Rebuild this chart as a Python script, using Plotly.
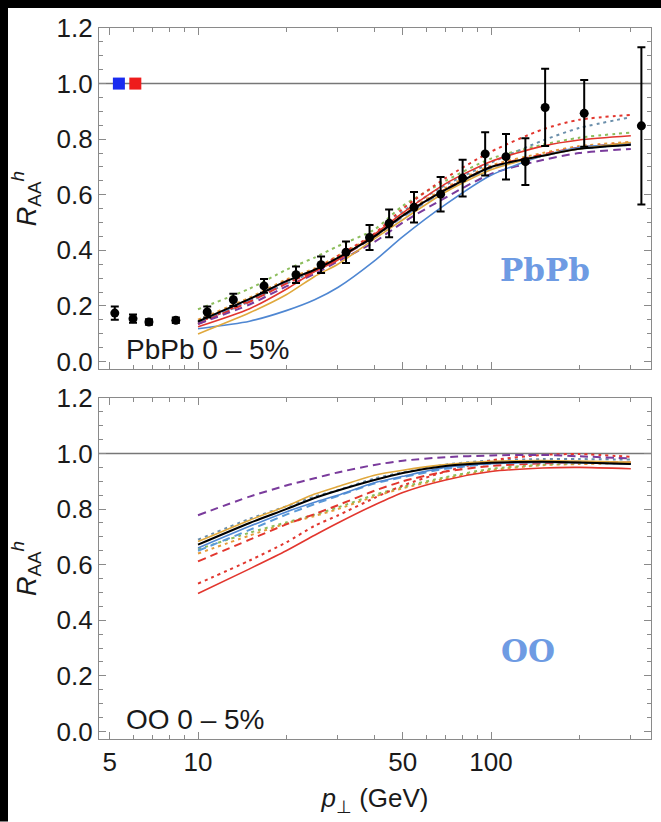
import math
import plotly.graph_objects as go
from plotly.subplots import make_subplots

# ---------------- data ----------------
pt_nodes = [10, 15, 20, 25, 30, 40, 50, 70, 100, 150, 200, 300]

# PbPb data points (pT, R_AA, error)
pbpb_pt = [5.2, 6.0, 6.8, 8.4, 10.75, 13.2, 16.8, 21.6, 26.3, 32, 38.5, 44.9, 54.6,
           67.3, 80, 95.5, 112.5, 131, 153, 208, 326]
pbpb_R = [0.174, 0.154, 0.142, 0.148, 0.178, 0.222, 0.272, 0.312, 0.348, 0.393, 0.446,
          0.497, 0.555, 0.602, 0.66, 0.747, 0.737, 0.719, 0.914, 0.893, 0.848]
pbpb_err = [0.024, 0.015, 0.01, 0.01, 0.02, 0.022, 0.025, 0.03, 0.03, 0.039, 0.045,
            0.05, 0.055, 0.062, 0.066, 0.078, 0.082, 0.084, 0.139, 0.12, 0.283]

# marker squares at R=1
sq_pt = [5.37, 6.11]
sq_R = [1.0, 1.0]
sq_colors = ["#1a2cf0", "#ee1c1c"]

# theory curves, PbPb panel
pb_black = [0.144, 0.225, 0.289, 0.330, 0.373, 0.450, 0.525, 0.618, 0.700, 0.740, 0.765, 0.780]
pb_red = [0.125, 0.190, 0.260, 0.324, 0.365, 0.458, 0.535, 0.640, 0.720, 0.775, 0.797, 0.812]
pb_blue = [0.118, 0.145, 0.183, 0.222, 0.266, 0.362, 0.449, 0.565, 0.670, 0.740, 0.770, 0.783]
pb_gold = [0.099, 0.175, 0.240, 0.306, 0.350, 0.441, 0.510, 0.610, 0.690, 0.740, 0.765, 0.788]
pb_red_dot = [0.140, 0.220, 0.290, 0.330, 0.380, 0.460, 0.550, 0.660, 0.755, 0.835, 0.870, 0.887]
pb_gblue_dot = [0.142, 0.215, 0.280, 0.325, 0.370, 0.455, 0.540, 0.635, 0.715, 0.795, 0.840, 0.879]
pb_green_dot = [0.188, 0.262, 0.330, 0.374, 0.415, 0.475, 0.560, 0.650, 0.730, 0.780, 0.805, 0.824]
pb_purple_dash = [0.135, 0.205, 0.270, 0.315, 0.360, 0.430, 0.500, 0.590, 0.675, 0.725, 0.750, 0.765]
pb_red_dash = [0.135, 0.215, 0.280, 0.325, 0.370, 0.450, 0.525, 0.620, 0.700, 0.745, 0.770, 0.785]
pb_lblue_dash = [0.140, 0.220, 0.285, 0.327, 0.370, 0.448, 0.520, 0.615, 0.695, 0.740, 0.765, 0.780]
pb_orange_dot = [0.150, 0.230, 0.295, 0.335, 0.380, 0.455, 0.530, 0.625, 0.705, 0.750, 0.775, 0.790]

# theory curves, OO panel
oo_black = [0.672, 0.750, 0.800, 0.840, 0.867, 0.905, 0.930, 0.955, 0.967, 0.970, 0.968, 0.962]
oo_red = [0.496, 0.585, 0.650, 0.706, 0.750, 0.815, 0.860, 0.905, 0.935, 0.948, 0.950, 0.945]
oo_blue = [0.660, 0.738, 0.790, 0.825, 0.850, 0.895, 0.918, 0.950, 0.963, 0.968, 0.967, 0.962]
oo_gold = [0.683, 0.760, 0.810, 0.854, 0.881, 0.922, 0.940, 0.960, 0.972, 0.975, 0.973, 0.968]
oo_red_dot = [0.532, 0.615, 0.680, 0.740, 0.777, 0.840, 0.885, 0.935, 0.975, 0.995, 0.998, 0.988]
oo_gblue_dot = [0.690, 0.765, 0.810, 0.845, 0.868, 0.910, 0.932, 0.960, 0.975, 0.980, 0.980, 0.978]
oo_green_dot = [0.655, 0.715, 0.752, 0.780, 0.806, 0.851, 0.880, 0.915, 0.945, 0.960, 0.965, 0.968]
oo_purple_dash = [0.778, 0.845, 0.885, 0.911, 0.932, 0.959, 0.974, 0.987, 0.993, 0.995, 0.990, 0.982]
oo_red_dash = [0.612, 0.690, 0.745, 0.782, 0.814, 0.866, 0.900, 0.935, 0.955, 0.965, 0.968, 0.968]
oo_lblue_dash = [0.650, 0.725, 0.780, 0.818, 0.847, 0.892, 0.915, 0.945, 0.963, 0.970, 0.970, 0.965]
oo_orange_dot = [0.640, 0.705, 0.748, 0.775, 0.800, 0.845, 0.875, 0.910, 0.940, 0.958, 0.962, 0.965]

x_tick_vals = [5, 10, 50, 100]
x_minor_vals = [6, 7, 8, 9, 20, 30, 40, 60, 70, 80, 90, 200, 300]
y_tick_vals = [0.0, 0.2, 0.4, 0.6, 0.8, 1.0, 1.2]

# ---------------- styles ----------------
RED = "#e2362e"
styles = [
    ("orange_dot", "#e69b3a", "3px,4px", 2.0),
    ("green_dot", "#8cbd5c", "3px,4px", 2.0),
    ("gblue_dot", "#6b8fab", "3px,4px", 2.0),
    ("red_dot", RED, "3px,4px", 2.0),
    ("lblue_dash", "#5a9ad8", "8px,5px", 2.0),
    ("red_dash", RED, "8px,5px", 2.0),
    ("purple_dash", "#7a3b9c", "8px,5px", 2.0),
    ("blue", "#4f87d2", "solid", 1.6),
    ("gold", "#e0a83c", "solid", 1.6),
    ("red", RED, "solid", 1.6),
    ("black", "#000000", "solid", 2.0),
]
pb_curves = dict(black=pb_black, red=pb_red, blue=pb_blue, gold=pb_gold,
                 red_dot=pb_red_dot, gblue_dot=pb_gblue_dot, green_dot=pb_green_dot,
                 purple_dash=pb_purple_dash, red_dash=pb_red_dash,
                 lblue_dash=pb_lblue_dash, orange_dot=pb_orange_dot)
oo_curves = dict(black=oo_black, red=oo_red, blue=oo_blue, gold=oo_gold,
                 red_dot=oo_red_dot, gblue_dot=oo_gblue_dot, green_dot=oo_green_dot,
                 purple_dash=oo_purple_dash, red_dash=oo_red_dash,
                 lblue_dash=oo_lblue_dash, orange_dot=oo_orange_dot)

fig = make_subplots(rows=2, cols=1, shared_xaxes=False, vertical_spacing=0.0)

for row, curves in ((1, pb_curves), (2, oo_curves)):
    for name, color, dash, width in styles:
        fig.add_trace(go.Scatter(x=pt_nodes, y=curves[name], mode="lines",
                                 line=dict(color=color, dash=dash, width=width, shape="spline",
                                           smoothing=0.7),
                                 showlegend=False, hoverinfo="skip"), row=row, col=1)

# data points
fig.add_trace(go.Scatter(x=pbpb_pt, y=pbpb_R, mode="markers",
                         marker=dict(color="black", size=9),
                         error_y=dict(type="data", array=pbpb_err, color="black",
                                      thickness=2, width=4),
                         showlegend=False), row=1, col=1)
fig.add_trace(go.Scatter(x=sq_pt, y=sq_R, mode="markers",
                         marker=dict(color=sq_colors, size=12, symbol="square"),
                         showlegend=False), row=1, col=1)

# horizontal reference line at R=1
for yref, xref in (("y", "x domain"), ("y2", "x2 domain")):
    fig.add_shape(type="line", xref=xref, yref=yref, x0=0, x1=1, y0=1, y1=1,
                  line=dict(color="#777777", width=1.5), layer="below")

# ---------------- layout ----------------
W, H = 661, 822
ML, MR, MT, MB = 99, 10, 28, 82.5
plot_h = H - MT - MB
panel_h = 341.3
tick_font = dict(family="Liberation Sans, Arial, sans-serif", size=26, color="#1a1a1a")
axis_color = "#8a8a8a"

xaxis_common = dict(type="log", range=[0.6621, 2.546], tickvals=x_tick_vals,
                    ticktext=[str(v) for v in x_tick_vals], ticks="inside", ticklen=7,
                    tickwidth=1, tickcolor=axis_color, showline=True, linecolor=axis_color,
                    linewidth=1.3, mirror="ticks", showgrid=False, zeroline=False,
                    tickfont=tick_font,
                    minor=dict(tickmode="array", tickvals=x_minor_vals, ticks="inside",
                               ticklen=4, tickcolor=axis_color, showgrid=False))
yaxis_common = dict(range=[-0.0273, 1.2], tickvals=y_tick_vals, tickformat=".1f",
                    ticks="inside", ticklen=7, tickwidth=1, tickcolor=axis_color,
                    showline=True, linecolor=axis_color, linewidth=1.3, mirror="ticks",
                    showgrid=False, zeroline=False, tickfont=tick_font,
                    minor=dict(dtick=0.05, ticks="inside", ticklen=4, tickcolor=axis_color,
                               showgrid=False),
                    title=dict(text="<i>R</i><sub>AA</sub><sup><i>h</i></sup>",
                               font=dict(family="Liberation Sans, Arial, sans-serif",
                                         size=27, color="#1a1a1a"),
                               standoff=12))

fig.update_layout(
    width=W, height=H, margin=dict(l=ML, r=MR, t=MT, b=MB),
    paper_bgcolor="white", plot_bgcolor="white",
    xaxis=dict(**xaxis_common, showticklabels=False, domain=[0, 1]),
    xaxis2=dict(**xaxis_common,
                title=dict(text="<i>p</i><sub>⊥</sub> (GeV)",
                           font=dict(family="Liberation Sans, Arial, sans-serif", size=26,
                                     color="#1a1a1a"), standoff=12)),
    yaxis=dict(**yaxis_common, domain=[1 - panel_h / plot_h, 1]),
    yaxis2=dict(**yaxis_common, domain=[0, panel_h / plot_h]),
)

# labels
label_font = dict(family="Liberation Sans, Arial, sans-serif", size=28, color="#1a1a1a")
fig.add_annotation(x=math.log10(5.6), y=0.0, xref="x", yref="y", text="PbPb 0 – 5%",
                   showarrow=False, xanchor="left", yanchor="bottom", font=label_font, yshift=-6)
fig.add_annotation(x=math.log10(5.6), y=0.0, xref="x2", yref="y2", text="OO 0 – 5%",
                   showarrow=False, xanchor="left", yanchor="bottom", font=label_font, yshift=-6)
big_font = dict(family="DejaVu Serif, serif", size=31, color="#6e9be3")
fig.add_annotation(x=math.log10(153), y=0.33, xref="x", yref="y", text="<b>PbPb</b>",
                   showarrow=False, font=big_font)
fig.add_annotation(x=math.log10(134), y=0.29, xref="x2", yref="y2", text="<b>OO</b>",
                   showarrow=False, font=big_font)

# black border strips at top and left of the image
pw = W - ML - MR
fig.add_shape(type="rect", xref="paper", yref="paper", x0=-ML / pw, x1=(8 - ML) / pw,
              y0=-MB / plot_h, y1=(H - MB) / plot_h, fillcolor="black", line_width=0,
              layer="above")
fig.add_shape(type="rect", xref="paper", yref="paper", x0=-ML / pw, x1=(W - ML) / pw,
              y0=(H - MB - 8) / plot_h, y1=(H - MB) / plot_h, fillcolor="black",
              line_width=0, layer="above")

fig.write_html("out.html")
